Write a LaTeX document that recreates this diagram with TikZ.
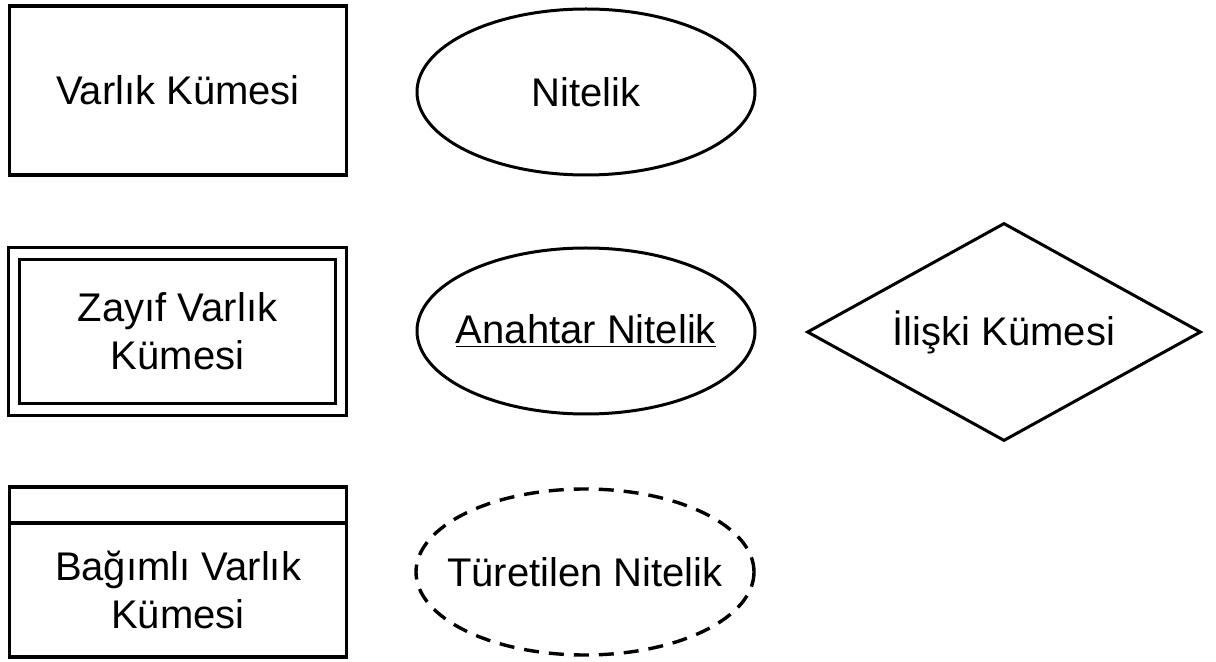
\documentclass[tikz,border=0pt]{standalone}
\usepackage{fontspec}
\setmainfont{Liberation Sans}
\usetikzlibrary{shapes.geometric}

\begin{document}
\begin{tikzpicture}[x=0.5pt,y=-0.5pt,
  every node/.style={font=\fontsize{20}{24}\selectfont, align=center},
  varlik/.style={draw, line width=1.6pt, rectangle, minimum width=168.5pt, minimum height=84.5pt},
  nitelik/.style={draw, line width=1.5pt, ellipse, minimum width=169pt, minimum height=83pt},
  iliski/.style={draw, line width=1.5pt, diamond, aspect=1.8, minimum width=197pt, minimum height=109pt}]
\useasboundingbox (0,0) rectangle (1216,662);

\node [varlik] (varlik) at (178,90.5) {Varlık Kümesi};
\node [varlik, double, double distance=4.2pt, minimum width=163.5pt, minimum height=78pt] (zayif) at (177.5,331.5) {Zayıf Varlık\\Kümesi};
\node [varlik, minimum height=85pt] (bagimli) at (178,572) {};
\draw [line width=1.6pt] (9,523)--(347,523);
\node (bagimliyazi) at (178,590) {Bağımlı Varlık\\Kümesi};

\node [nitelik, label=center:Nitelik] (nitelik) at (586,92) {};
\node [nitelik, label=center:{\underline{Anahtar Nitelik}}] (anahtar) at (586,331) {};
\node [nitelik, line width=1.7pt, dash pattern=on 7.5pt off 5pt, label=center:{Türetilen Nitelik}] (turetilen) at (585,572) {};

\node [iliski] (iliski) at (1004,332) {İlişki Kümesi};
\end{tikzpicture}
\end{document}
